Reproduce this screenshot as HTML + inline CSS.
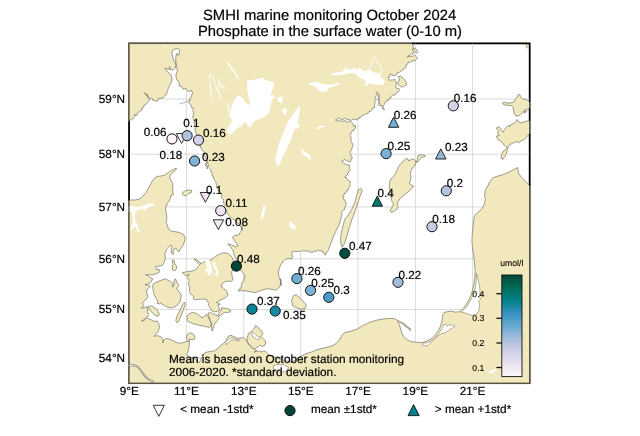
<!DOCTYPE html>
<html><head><meta charset="utf-8"><title>SMHI marine monitoring October 2024</title>
<style>html,body{margin:0;padding:0;background:#fff}svg{display:block;will-change:transform}text{font-family:"Liberation Sans",Arial,sans-serif;fill:#000;stroke:#000;stroke-width:0.2px;text-rendering:geometricPrecision}.t{font-size:14.8px}.l{font-size:11.75px}.m{font-size:11.7px}.s{font-size:8.7px;stroke-width:0.1px}</style></head><body>
<svg width="640" height="436" viewBox="0 0 640 436">
<rect width="640" height="436" fill="#fff"/>
<defs><clipPath id="fr"><rect x="128.45" y="42.8" width="401.8" height="341.0"/></clipPath>
<linearGradient id="cb" x1="0" y1="0" x2="0" y2="1"><stop offset="0.000" stop-color="#014636"/><stop offset="0.125" stop-color="#016c59"/><stop offset="0.250" stop-color="#02818a"/><stop offset="0.375" stop-color="#3690c0"/><stop offset="0.500" stop-color="#67a9cf"/><stop offset="0.625" stop-color="#a6bddb"/><stop offset="0.750" stop-color="#d0d1e6"/><stop offset="0.875" stop-color="#ece2f0"/><stop offset="1.000" stop-color="#fff7fb"/></linearGradient></defs>
<rect x="129.05" y="43.4" width="400.6" height="339.8" fill="#fff" stroke="#000" stroke-width="1.7"/>
<g clip-path="url(#fr)">
<line x1="186.4" y1="43" x2="186.4" y2="383" stroke="#cbcbcb" stroke-width="0.7"/>
<line x1="243.7" y1="43" x2="243.7" y2="383" stroke="#cbcbcb" stroke-width="0.7"/>
<line x1="300.7" y1="43" x2="300.7" y2="383" stroke="#cbcbcb" stroke-width="0.7"/>
<line x1="358.0" y1="43" x2="358.0" y2="383" stroke="#cbcbcb" stroke-width="0.7"/>
<line x1="415.4" y1="43" x2="415.4" y2="383" stroke="#cbcbcb" stroke-width="0.7"/>
<line x1="472.6" y1="43" x2="472.6" y2="383" stroke="#cbcbcb" stroke-width="0.7"/>
<line x1="129" y1="99.0" x2="530" y2="99.0" stroke="#cbcbcb" stroke-width="0.7"/>
<line x1="129" y1="154.2" x2="530" y2="154.2" stroke="#cbcbcb" stroke-width="0.7"/>
<line x1="129" y1="206.9" x2="530" y2="206.9" stroke="#cbcbcb" stroke-width="0.7"/>
<line x1="129" y1="258.8" x2="530" y2="258.8" stroke="#cbcbcb" stroke-width="0.7"/>
<line x1="129" y1="309.5" x2="530" y2="309.5" stroke="#cbcbcb" stroke-width="0.7"/>
<line x1="129" y1="358.0" x2="530" y2="358.0" stroke="#cbcbcb" stroke-width="0.7"/>
<path d="M126.5,40.5 L412.0,40.5 L412.0,43.9 L412.8,45.0 L412.9,46.4 L413.5,47.9 L412.5,49.2 L412.6,50.5 L413.4,51.5 L413.5,53.2 L412.0,53.8 L410.8,54.4 L409.7,55.1 L408.7,56.3 L407.4,57.0 L408.3,55.8 L409.7,56.5 L411.3,56.3 L412.9,56.1 L414.6,55.2 L416.1,56.5 L417.5,57.9 L416.9,58.9 L416.1,59.7 L414.9,60.9 L413.4,60.2 L412.6,61.5 L411.1,61.1 L409.7,62.5 L408.3,62.0 L408.0,63.2 L407.4,64.3 L406.1,64.8 L406.1,66.1 L405.6,67.9 L403.8,68.4 L403.1,70.0 L401.5,70.7 L400.2,71.4 L399.2,72.6 L397.4,72.7 L396.9,74.4 L395.8,75.0 L395.0,75.8 L394.2,75.6 L393.0,75.4 L391.9,74.7 L390.6,73.8 L389.6,75.1 L390.3,76.4 L388.2,77.0 L388.7,78.3 L389.2,79.7 L390.6,80.6 L391.6,79.9 L392.8,80.2 L393.8,79.2 L395.1,79.7 L395.1,81.1 L396.4,82.2 L396.1,83.9 L396.3,85.3 L395.6,86.6 L396.0,88.0 L397.4,88.4 L398.9,88.5 L399.7,89.8 L398.8,90.6 L398.3,91.7 L397.0,92.1 L396.1,93.0 L395.7,94.3 L394.7,95.3 L392.8,94.9 L391.8,95.7 L391.0,96.7 L390.8,98.3 L389.2,98.5 L388.5,100.2 L386.7,100.2 L386.5,101.7 L385.2,102.5 L384.3,103.3 L384.3,104.6 L383.6,105.6 L383.2,107.0 L382.0,108.0 L383.1,109.1 L384.5,109.8 L383.7,108.7 L383.0,107.5 L381.8,106.6 L381.4,105.2 L379.8,105.9 L380.1,104.2 L379.1,102.8 L379.3,101.4 L378.0,100.3 L378.3,98.9 L378.3,97.7 L378.1,96.6 L378.8,95.3 L377.8,94.2 L376.9,92.7 L376.0,93.8 L376.7,95.4 L375.9,96.6 L374.7,97.6 L376.4,99.1 L375.5,100.1 L375.2,101.2 L374.4,102.3 L375.6,103.7 L374.6,104.8 L374.4,105.9 L374.8,107.5 L373.0,107.8 L372.8,109.1 L371.6,109.4 L371.1,110.5 L370.5,111.4 L368.8,111.5 L368.1,113.0 L367.3,113.9 L365.8,113.6 L365.0,114.5 L363.9,114.9 L362.8,115.4 L361.9,116.1 L361.2,116.9 L359.8,117.1 L359.5,118.4 L357.8,118.4 L357.2,120.0 L356.0,119.7 L354.8,119.2 L353.2,119.2 L351.7,120.0 L350.3,120.9 L349.2,119.3 L347.8,119.7 L346.7,119.2 L345.6,118.3 L344.4,118.6 L343.1,119.2 L341.9,119.5 L340.7,119.1 L339.7,118.3 L338.4,118.4 L335.3,120.0 L338.4,121.2 L339.7,120.2 L340.8,121.3 L342.0,120.7 L343.1,121.6 L344.4,120.8 L345.5,120.7 L346.6,122.4 L347.8,121.9 L349.2,121.2 L350.5,121.6 L351.7,122.3 L352.7,123.4 L353.3,124.7 L353.5,126.1 L355.5,125.6 L355.6,127.0 L355.2,128.1 L354.5,129.1 L354.1,130.2 L352.7,130.3 L352.0,131.2 L351.7,132.5 L350.4,133.2 L351.1,134.8 L350.2,135.6 L350.7,136.9 L351.2,138.1 L351.2,139.5 L350.8,141.1 L351.1,142.5 L352.5,143.4 L353.1,144.7 L352.8,145.9 L352.5,147.1 L351.7,148.1 L351.8,149.7 L350.7,150.7 L350.2,152.0 L350.2,153.4 L351.2,154.5 L350.9,155.9 L352.4,157.2 L351.7,159.1 L351.2,158.6 L351.0,160.2 L350.5,161.7 L348.8,161.6 L347.3,160.9 L346.1,160.5 L344.9,159.4 L343.4,160.2 L342.2,160.6 L341.6,161.7 L342.9,162.5 L344.2,163.3 L345.1,164.0 L346.1,164.7 L347.3,164.8 L349.1,164.8 L349.7,166.4 L349.2,168.2 L350.5,169.5 L349.4,170.3 L348.7,171.2 L348.9,172.7 L347.6,173.0 L347.5,174.4 L346.6,175.0 L345.8,176.3 L344.7,177.3 L346.2,177.4 L346.6,178.9 L347.6,179.9 L348.9,180.5 L350.2,181.2 L350.6,182.2 L350.0,183.6 L350.3,185.1 L350.0,186.4 L348.9,187.5 L348.4,188.8 L348.2,190.2 L346.6,190.6 L346.6,192.2 L345.6,192.8 L344.2,193.0 L344.5,194.4 L343.5,195.2 L342.7,196.1 L344.2,196.6 L342.9,198.6 L344.2,199.2 L344.5,200.6 L346.0,201.5 L345.8,203.1 L346.1,204.5 L345.6,205.8 L345.0,207.0 L344.8,208.2 L344.7,209.5 L343.4,210.2 L342.2,211.2 L341.3,212.3 L341.9,214.1 L341.7,215.4 L341.4,216.7 L341.1,218.0 L340.6,220.0 L339.1,224.7 L336.7,229.4 L334.4,234.4 L332.2,239.9 L330.6,244.3 L328.9,248.2 L328.9,249.4 L328.3,250.4 L327.5,251.2 L326.7,252.0 L326.6,253.2 L325.4,253.9 L325.4,255.1 L324.3,254.1 L324.0,252.6 L322.7,252.2 L322.3,250.9 L321.1,250.6 L320.1,251.5 L319.0,250.6 L317.9,249.8 L317.1,251.0 L315.7,251.5 L314.6,251.1 L313.5,250.9 L312.8,252.3 L311.3,252.6 L310.2,252.0 L309.1,251.5 L308.0,250.8 L306.9,251.0 L305.8,251.5 L304.8,250.8 L303.5,251.0 L302.5,250.4 L301.5,250.9 L300.5,251.5 L299.2,251.5 L298.1,251.1 L297.0,251.4 L295.9,251.5 L294.6,251.1 L293.3,251.7 L292.1,251.5 L292.2,252.9 L291.5,254.2 L292.0,255.6 L293.2,256.4 L291.8,257.4 L291.5,259.2 L290.5,258.5 L289.4,258.4 L288.2,258.6 L287.0,258.6 L285.9,259.0 L284.9,259.7 L282.7,261.9 L280.5,265.2 L278.9,269.6 L278.3,274.0 L279.4,278.0 L280.5,280.9 L281.2,285.6 L280.6,278.6 L280.9,283.3 L279.4,287.2 L276.2,290.3 L273.1,289.5 L268.4,288.8 L263.8,289.5 L259.1,291.1 L255.2,292.7 L251.2,291.9 L246.6,291.1 L241.9,290.3 L238.4,291.1 L238.8,289.5 L241.1,288.0 L241.6,284.1 L243.8,280.2 L245.0,276.2 L243.4,273.1 L240.3,270.0 L239.2,265.3 L238.0,261.4 L235.9,258.3 L234.1,255.2 L233.3,251.2 L230.9,247.3 L227.8,243.8 L231.7,245.0 L235.6,246.6 L238.0,245.8 L236.4,243.4 L234.1,240.3 L232.5,237.2 L234.8,235.6 L238.8,234.8 L241.1,230.9 L241.9,226.2 L242.5,230.2 L240.0,225.2 L236.2,221.5 L231.2,217.8 L227.5,214.0 L226.7,212.8 L226.7,211.3 L226.3,210.0 L225.7,208.9 L224.9,208.0 L224.6,206.8 L225.0,205.5 L224.2,204.5 L223.7,203.3 L223.6,202.0 L223.4,200.5 L223.3,199.0 L222.0,198.0 L221.5,196.9 L221.8,195.5 L221.5,194.3 L220.3,193.5 L220.6,192.1 L219.2,191.3 L218.5,190.3 L218.5,189.0 L217.6,188.2 L217.0,187.2 L216.6,186.2 L216.7,184.9 L216.0,184.0 L216.1,182.5 L215.5,181.4 L214.5,180.4 L214.2,179.1 L213.5,178.0 L213.5,176.6 L211.8,175.9 L212.3,174.3 L212.1,172.9 L211.0,172.0 L211.0,170.6 L210.4,169.4 L209.5,168.4 L208.6,167.4 L208.6,166.0 L208.7,164.6 L207.5,163.7 L207.9,162.2 L207.8,160.9 L206.6,160.0 L206.8,161.1 L206.9,162.2 L206.0,163.4 L206.4,164.5 L207.4,165.6 L207.6,166.7 L207.6,167.8 L207.0,168.9 L207.3,167.5 L206.7,166.4 L205.3,165.6 L205.5,164.2 L206.2,163.2 L206.7,162.0 L206.3,160.8 L206.2,159.6 L205.6,158.5 L205.5,157.2 L204.5,156.2 L204.7,154.9 L203.4,154.1 L204.2,152.2 L203.2,151.2 L202.3,150.2 L201.6,149.1 L201.4,147.7 L200.0,147.1 L200.3,145.5 L200.8,143.9 L201.0,142.6 L200.5,141.4 L199.1,140.6 L199.2,139.2 L198.3,138.5 L197.7,137.5 L197.1,136.5 L196.9,135.3 L196.6,134.0 L195.7,132.9 L195.6,131.4 L195.4,130.3 L194.8,129.2 L196.0,127.9 L195.2,126.8 L194.6,125.6 L194.5,124.4 L194.4,123.2 L193.9,122.1 L194.3,120.7 L193.2,119.8 L193.7,118.4 L192.7,117.4 L192.9,116.2 L193.3,115.0 L193.5,113.9 L193.8,112.7 L192.8,111.6 L193.4,110.4 L192.9,109.2 L193.3,108.0 L191.8,107.8 L191.4,106.4 L191.0,105.0 L189.8,104.1 L188.9,103.1 L189.1,101.7 L189.8,99.4 L191.4,96.2 L192.5,93.1 L191.4,90.0 L189.8,91.6 L187.5,90.8 L185.9,88.4 L183.1,89.2 L182.0,86.9 L179.7,86.1 L178.9,82.2 L176.6,79.1 L175.8,75.2 L177.3,70.5 L176.6,65.8 L175.8,61.1 L175.8,57.2 L176.2,54.1 L177.3,53.3 L178.1,55.6 L179.4,53.3 L179.7,50.2 L178.1,48.6 L175.0,49.1 L172.7,50.2 L171.9,53.3 L172.7,57.2 L173.8,60.3 L175.0,61.9 L175.8,65.0 L175.3,68.1 L173.4,69.7 L170.3,69.7 L169.5,66.6 L169.2,69.7 L167.2,68.9 L164.8,68.1 L166.4,70.5 L168.8,72.8 L171.1,75.2 L171.9,78.3 L171.6,82.2 L169.5,85.3 L168.0,89.2 L167.7,90.4 L167.0,91.5 L167.0,92.7 L166.9,93.9 L166.1,94.9 L164.8,95.5 L164.0,96.5 L163.2,97.5 L162.5,98.6 L161.3,97.8 L159.8,98.8 L158.6,97.8 L158.1,99.3 L157.8,100.9 L156.4,101.1 L155.1,100.8 L153.9,100.2 L152.6,100.2 L152.4,98.8 L151.4,97.8 L150.2,99.0 L149.4,98.1 L148.7,97.2 L148.1,96.1 L147.0,95.5 L146.7,94.1 L145.2,93.7 L144.4,92.7 L145.2,93.9 L146.3,94.9 L147.2,96.0 L148.0,97.2 L148.5,98.6 L149.6,99.6 L149.0,100.7 L148.3,101.7 L147.3,102.7 L146.5,103.8 L145.5,104.8 L144.2,105.2 L143.9,106.4 L142.9,107.1 L142.8,108.4 L141.4,108.7 L141.6,110.4 L140.4,111.0 L139.7,111.9 L138.2,112.2 L137.3,113.2 L137.2,115.0 L135.8,115.4 L134.2,114.2 L135.1,115.3 L134.6,116.6 L133.8,117.4 L133.3,118.7 L131.9,118.9 L126.5,123.5Z" fill="#f2e8bd" stroke="#6a6a5e" stroke-width="0.65" stroke-linejoin="round"/>
<path d="M126.5,202.0 L127.9,200.0 L135.4,200.0 L140.1,198.6 L142.9,196.2 L145.8,192.9 L148.6,188.2 L150.9,183.5 L153.8,178.8 L157.0,176.5 L160.8,176.0 L164.6,175.1 L167.9,172.7 L171.2,170.8 L174.4,168.7 L176.6,168.5 L174.9,170.8 L172.6,172.7 L170.2,175.1 L169.7,177.9 L171.2,180.7 L172.6,183.5 L173.0,187.3 L172.6,191.0 L173.5,194.8 L171.2,195.0 L170.2,198.8 L167.9,202.5 L166.0,206.3 L165.5,210.1 L166.5,213.8 L166.9,218.5 L166.0,222.3 L166.9,223.9 L168.0,227.8 L170.3,230.9 L175.0,231.7 L179.7,232.5 L183.6,234.8 L185.2,238.0 L184.4,241.9 L182.8,245.8 L180.5,248.9 L178.9,252.0 L177.3,250.5 L175.8,248.1 L174.2,248.9 L173.1,251.2 L173.4,254.4 L171.9,253.6 L171.1,250.5 L171.9,247.3 L171.1,245.0 L168.8,246.6 L166.4,249.7 L164.8,253.6 L165.3,258.3 L164.1,262.2 L162.5,265.3 L158.6,266.1 L155.5,266.9 L156.2,268.8 L157.0,270.0 L158.7,268.8 L159.8,271.5 L157.6,273.2 L154.8,274.3 L151.5,274.8 L148.2,274.6 L145.5,274.8 L148.2,275.9 L150.4,277.6 L152.6,278.7 L151.5,280.9 L149.9,283.1 L147.1,284.2 L144.9,284.7 L148.2,285.3 L150.4,286.4 L148.8,288.0 L147.1,289.1 L146.6,291.9 L147.1,294.6 L147.8,296.5 L147.3,297.8 L145.6,300.0 L143.4,301.6 L142.3,303.8 L144.0,305.5 L142.9,307.1 L141.2,308.2 L144.5,307.7 L147.2,306.7 L147.5,311.0 L148.5,314.5 L147.6,316.6 L144.0,319.5 L141.5,321.3 L144.6,319.8 L146.7,317.9 L148.9,318.9 L151.7,320.0 L153.9,321.1 L156.1,321.6 L157.2,320.9 L158.8,323.6 L159.4,327.5 L158.3,331.3 L156.1,334.1 L153.9,336.3 L156.6,335.7 L159.9,336.3 L162.1,337.9 L163.2,340.1 L162.7,343.0 L163.8,340.0 L166.0,338.5 L169.3,339.0 L173.1,340.7 L176.4,342.6 L180.0,343.2 L183.5,342.6 L186.7,341.4 L189.5,341.4 L189.1,346.9 L188.0,351.6 L186.4,354.7 L190.0,357.1 L195.0,358.9 L198.1,362.1 L199.5,362.5 L200.9,358.9 L203.0,355.0 L205.0,352.7 L209.1,351.6 L214.5,350.8 L217.7,348.5 L220.0,346.1 L223.1,343.8 L225.5,341.4 L227.0,338.3 L228.6,336.0 L230.9,335.2 L234.1,336.8 L237.2,338.3 L241.1,338.0 L243.4,337.5 L245.8,339.9 L247.3,342.2 L248.9,344.6 L251.2,346.9 L254.4,349.2 L256.7,350.8 L254.1,352.2 L257.2,350.9 L261.1,351.9 L265.0,350.9 L267.3,353.0 L268.9,355.3 L274.4,356.9 L280.6,359.2 L286.9,361.2 L293.1,361.6 L299.4,356.9 L305.6,353.8 L311.9,351.9 L316.9,349.7 L324.7,347.7 L331.7,346.1 L335.6,343.8 L339.5,339.8 L341.9,335.2 L345.0,332.5 L351.2,331.2 L357.5,328.9 L363.8,325.0 L370.0,322.2 L376.2,320.3 L382.5,319.1 L388.8,318.4 L395.0,318.8 L397.3,320.3 L398.4,322.7 L399.7,325.8 L400.9,329.7 L402.0,333.6 L404.4,337.5 L407.5,339.8 L410.6,341.4 L415.3,342.2 L420.0,342.5 L424.7,341.9 L429.4,339.8 L433.3,337.2 L436.4,333.6 L438.8,329.7 L440.3,326.6 L441.6,322.7 L442.3,318.8 L442.7,314.8 L444.2,312.5 L447.3,311.7 L451.2,311.2 L455.2,312.2 L459.1,311.7 L459.5,311.4 L463.4,308.3 L467.3,302.8 L471.2,295.0 L473.6,285.9 L474.7,278.1 L475.2,271.9 L474.7,265.6 L474.1,259.4 L473.6,254.7 L472.8,250.0 L472.0,243.1 L472.0,236.9 L472.8,229.1 L473.6,221.2 L474.4,215.8 L477.5,212.7 L481.4,209.5 L483.8,205.6 L485.3,199.4 L484.5,194.7 L485.3,190.0 L487.7,186.2 L490.0,181.6 L493.1,177.7 L497.8,176.1 L503.3,174.5 L508.8,172.2 L513.4,169.8 L517.8,167.5 L518.1,170.9 L518.9,173.8 L521.2,176.9 L524.4,180.0 L527.5,183.1 L529.4,185.5 L532.5,187.5 L532.5,386.0 L126.5,386.0Z" fill="#f2e8bd" stroke="#6a6a5e" stroke-width="0.65" stroke-linejoin="round"/>
<path d="M148.1,306.6 L150.6,305.8 L153.3,306.9 L156.1,308.8 L158.3,311.5 L159.4,314.3 L157.7,316.5 L155.5,315.4 L153.3,313.7 L151.1,311.5 L149.7,309.3 L148.3,307.9Z" fill="#f2e8bd" stroke="#6a6a5e" stroke-width="0.65" stroke-linejoin="round"/>
<path d="M153.2,284.2 L157.0,282.0 L161.4,280.1 L165.8,278.7 L167.5,279.8 L169.5,281.0 L171.5,282.0 L172.6,283.5 L172.3,286.9 L173.3,286.7 L174.0,284.0 L174.3,280.9 L175.2,278.7 L176.3,280.9 L177.4,283.1 L179.0,285.8 L177.4,287.5 L176.3,288.0 L177.9,290.2 L180.1,293.0 L181.4,295.7 L180.8,297.8 L180.3,301.1 L178.6,303.8 L176.4,306.0 L173.7,307.3 L170.4,308.0 L167.1,307.1 L164.3,305.5 L162.1,304.4 L161.0,302.7 L159.4,303.8 L157.2,303.3 L157.7,301.1 L156.1,298.3 L154.6,295.5 L153.7,293.5 L153.2,290.2 L152.6,286.9Z" fill="#f2e8bd" stroke="#6a6a5e" stroke-width="0.65" stroke-linejoin="round"/>
<path d="M184.7,302.0 L185.2,305.2 L183.6,309.1 L182.0,313.0 L180.5,316.9 L178.9,320.8 L177.3,323.1 L175.8,320.8 L176.6,316.9 L178.1,313.8 L180.0,310.6 L181.6,306.7 L183.1,303.6Z" fill="#f2e8bd" stroke="#6a6a5e" stroke-width="0.65" stroke-linejoin="round"/>
<path d="M172.7,259.8 L174.2,260.6 L174.7,263.8 L176.2,265.3 L176.6,268.4 L175.0,270.8 L172.7,270.0 L172.2,266.9 L173.1,264.5 L172.3,261.9Z" fill="#f2e8bd" stroke="#6a6a5e" stroke-width="0.65" stroke-linejoin="round"/>
<path d="M182.0,193.1 L184.4,191.2 L188.3,190.0 L191.9,190.5 L191.4,192.5 L188.3,193.6 L185.9,195.9 L183.6,195.2Z" fill="#f2e8bd" stroke="#6a6a5e" stroke-width="0.65" stroke-linejoin="round"/>
<path d="M186.4,338.3 L187.2,334.4 L189.5,332.8 L192.7,333.6 L195.0,336.8 L194.7,339.1 L191.9,339.6 L189.5,339.1 L189.1,341.4Z" fill="#f2e8bd" stroke="#6a6a5e" stroke-width="0.65" stroke-linejoin="round"/>
<path d="M194.3,258.8 L196.5,259.9 L198.7,261.3 L200.4,262.4 L200.9,264.3 L202.6,262.6 L204.8,261.7 L207.0,261.5 L209.2,260.4 L211.4,259.3 L213.0,258.2 L215.2,256.6 L218.0,254.9 L220.7,253.6 L223.5,252.7 L226.2,252.9 L228.4,253.8 L230.6,255.5 L232.3,257.7 L233.4,260.4 L232.6,263.2 L232.8,266.5 L232.6,269.8 L231.7,272.5 L231.9,275.8 L233.0,278.0 L232.6,280.2 L231.2,281.5 L228.4,281.1 L225.7,281.3 L223.5,282.6 L221.8,284.6 L221.3,286.8 L222.4,287.2 L224.0,288.9 L226.2,290.5 L227.3,292.7 L227.9,295.5 L226.2,297.1 L223.5,298.8 L220.7,299.9 L218.0,301.5 L216.3,302.6 L218.5,303.2 L220.2,304.3 L218.0,304.8 L218.5,306.5 L219.6,308.7 L219.1,310.9 L216.9,311.4 L214.1,312.0 L211.9,310.9 L210.8,308.7 L209.7,307.0 L208.1,305.4 L208.8,303.7 L207.5,301.5 L206.4,299.3 L202.6,299.1 L198.7,299.3 L195.4,299.9 L193.2,298.8 L193.8,296.6 L191.0,294.4 L189.4,291.6 L189.8,287.2 L188.3,284.1 L189.1,280.2 L187.5,277.0 L189.1,273.9 L186.1,275.8 L183.9,274.2 L182.2,272.5 L184.4,272.3 L187.7,271.6 L191.0,271.3 L194.3,270.2 L196.5,268.8 L197.6,267.0 L198.9,265.7 L199.4,264.6 L198.3,263.3 L196.7,261.8 L195.2,260.5 L194.1,259.4Z" fill="#f2e8bd" stroke="#6a6a5e" stroke-width="0.65" stroke-linejoin="round"/>
<path d="M221.3,307.6 L223.5,308.1 L226.2,308.3 L229.0,309.2 L230.6,310.5 L230.1,312.0 L227.9,312.5 L225.1,312.3 L223.5,313.1 L221.8,314.7 L220.2,315.8 L218.5,315.3 L218.7,313.6 L219.8,312.0 L220.9,310.9 L221.8,309.2Z" fill="#f2e8bd" stroke="#6a6a5e" stroke-width="0.65" stroke-linejoin="round"/>
<path d="M208.1,313.1 L210.3,312.5 L212.5,313.8 L215.2,314.7 L218.0,315.8 L219.1,317.5 L218.0,319.7 L216.3,321.9 L214.7,324.1 L213.6,326.8 L212.8,330.1 L212.1,331.2 L211.7,329.0 L211.4,326.3 L211.7,323.5 L210.8,321.9 L209.7,319.1 L208.8,316.4 L208.1,314.7Z" fill="#f2e8bd" stroke="#6a6a5e" stroke-width="0.65" stroke-linejoin="round"/>
<path d="M186.8,316.9 L187.7,314.9 L189.9,313.4 L192.7,312.5 L195.4,313.1 L197.6,314.2 L199.8,315.8 L202.0,318.0 L203.7,316.9 L205.3,315.3 L206.6,314.5 L207.5,315.8 L208.8,318.0 L209.7,320.2 L210.6,322.4 L211.0,324.1 L210.8,326.3 L209.2,327.4 L206.4,326.8 L203.1,325.9 L199.8,325.5 L196.5,324.6 L193.2,323.7 L189.9,322.4 L187.7,321.3 L186.4,319.7 L187.7,318.6Z" fill="#f2e8bd" stroke="#6a6a5e" stroke-width="0.65" stroke-linejoin="round"/>
<path d="M247.0,338.1 L248.6,333.4 L251.7,331.1 L254.1,328.8 L255.6,325.6 L258.0,327.2 L260.3,330.3 L261.9,331.1 L262.7,333.4 L261.1,336.6 L263.4,338.9 L265.8,341.2 L265.0,345.2 L261.9,346.7 L260.3,345.2 L257.2,347.5 L254.8,349.1 L252.5,348.3 L250.6,345.6 L248.6,343.6 L247.0,341.2Z" fill="#f2e8bd" stroke="#6a6a5e" stroke-width="0.65" stroke-linejoin="round"/>
<path d="M293.8,295.3 L296.1,294.7 L299.0,297.2 L302.3,300.3 L306.1,304.7 L305.6,307.5 L305.1,308.8 L300.4,309.2 L296.5,307.7 L292.9,306.0 L291.6,301.3 L292.4,297.8Z" fill="#f2e8bd" stroke="#6a6a5e" stroke-width="0.65" stroke-linejoin="round"/>
<path d="M360.6,188.3 L362.2,189.8 L361.4,193.0 L359.8,196.9 L358.3,201.6 L356.7,206.3 L355.2,210.9 L353.6,215.6 L351.6,220.0 L350.8,223.1 L349.2,227.8 L347.7,233.3 L346.1,238.8 L344.5,243.4 L342.2,247.3 L340.9,243.4 L340.6,238.8 L341.4,232.5 L343.0,226.3 L344.5,220.0 L345.8,218.0 L347.3,216.4 L348.9,214.1 L351.3,210.2 L353.1,206.3 L355.2,201.6 L356.3,196.9 L357.5,193.0 L358.3,189.8Z" fill="#f2e8bd" stroke="#6a6a5e" stroke-width="0.65" stroke-linejoin="round"/>
<path d="M418.1,155.6 L420.5,154.8 L423.6,155.2 L425.6,155.9 L423.6,157.2 L421.2,157.5 L419.7,159.5 L418.1,161.9 L415.8,162.7 L415.0,165.8 L412.7,167.3 L411.1,170.5 L410.3,173.6 L411.1,176.7 L410.3,180.6 L409.5,183.8 L411.9,185.3 L413.3,186.0 L412.2,188.0 L410.4,190.0 L405.7,193.8 L401.0,197.6 L398.2,201.3 L397.3,204.2 L398.2,207.0 L396.3,209.8 L393.5,211.7 L391.1,212.2 L390.3,209.8 L392.2,207.0 L393.5,204.2 L392.2,202.3 L391.1,197.6 L390.3,191.9 L389.2,186.5 L389.7,182.2 L390.8,179.1 L393.1,176.7 L395.5,173.6 L397.0,170.5 L398.6,166.6 L400.9,163.4 L403.3,161.1 L405.9,158.8 L408.0,158.8 L408.8,161.1 L411.1,159.5 L413.4,159.1 L415.0,160.3 L415.8,162.2 L417.3,159.5Z" fill="#f2e8bd" stroke="#6a6a5e" stroke-width="0.65" stroke-linejoin="round"/>
<path d="M502.1,103.3 L504.4,102.2 L507.8,103.1 L511.3,102.8 L514.2,102.0 L515.3,99.3 L517.0,97.6 L518.2,94.7 L519.9,94.4 L520.5,97.0 L522.2,98.8 L525.0,99.3 L527.9,100.5 L529.6,102.0 L532.5,102.2 L532.5,108.3 L529.6,108.5 L527.3,109.1 L524.5,110.2 L522.5,112.3 L520.5,114.6 L518.2,116.0 L515.9,116.0 L514.2,113.7 L513.6,110.2 L513.0,107.4 L511.3,105.6 L508.4,105.4 L505.6,105.1 L503.3,104.3Z" fill="#f2e8bd" stroke="#6a6a5e" stroke-width="0.65" stroke-linejoin="round"/>
<path d="M523.4,112.1 L525.0,111.1 L526.7,110.9 L526.2,112.1 L524.4,112.9Z" fill="#f2e8bd" stroke="#6a6a5e" stroke-width="0.65" stroke-linejoin="round"/>
<path d="M496.4,128.0 L498.1,126.9 L499.8,127.4 L501.5,130.3 L503.3,132.0 L504.4,129.7 L506.7,126.9 L508.4,125.1 L509.6,126.9 L510.7,124.6 L513.6,123.4 L515.9,121.7 L517.0,119.4 L518.2,121.7 L520.5,122.8 L523.9,121.9 L526.8,121.1 L529.6,120.6 L532.5,120.3 L532.5,132.3 L529.4,133.9 L528.3,134.7 L526.7,137.0 L524.4,139.4 L521.2,140.9 L518.9,142.5 L515.8,141.7 L512.7,143.3 L509.5,144.8 L508.3,146.9 L507.5,149.5 L506.4,153.4 L504.8,156.6 L502.5,159.7 L500.9,158.1 L501.7,155.0 L503.3,151.1 L505.6,149.5 L507.2,147.2 L505.6,146.4 L503.3,144.1 L501.7,141.7 L497.8,139.4 L496.2,136.2 L499.2,135.5 L497.5,133.2 L498.7,130.9 L497.3,129.7Z" fill="#f2e8bd" stroke="#6a6a5e" stroke-width="0.65" stroke-linejoin="round"/>
<path d="M526.2,44.3 L528.9,44.3 L529.0,46.5 L527.8,48.0 L526.6,47.2 L526.2,45.5Z" fill="#f2e8bd" stroke="#6a6a5e" stroke-width="0.65" stroke-linejoin="round"/>
<path d="M398.3,76.5 L400.6,76.1 L402.9,77.9 L404.8,79.7 L406.1,82.5 L406.6,84.8 L404.3,86.1 L402.0,87.1 L399.7,86.1 L398.3,84.3 L397.4,82.0 L399.3,80.6 L399.7,78.8 L398.3,77.4Z" fill="#f2e8bd" stroke="#6a6a5e" stroke-width="0.65" stroke-linejoin="round"/>
<path d="M413.4,47.8 L415.2,48.7 L417.1,50.1 L417.5,52.4 L416.6,53.3 L415.2,51.9 L414.0,50.1Z" fill="#f2e8bd" stroke="#6a6a5e" stroke-width="0.65" stroke-linejoin="round"/>
<path d="M131.0,365.2 L133.8,365.2 L136.0,365.8 L138.0,366.9 L140.0,369.6 L142.1,372.3 L144.2,375.1 L146.2,377.5 L148.0,378.9 L150.0,380.2 L153.1,381.3" fill="none" stroke="#6a6a5e" stroke-width="1.7" stroke-linecap="round" stroke-linejoin="round"/>
<path d="M131.0,365.2 L133.8,365.2 L136.0,365.8 L138.0,366.9 L140.0,369.6 L142.1,372.3 L144.2,375.1 L146.2,377.5 L148.0,378.9 L150.0,380.2 L153.1,381.3" fill="none" stroke="#fff" stroke-width="0.7" stroke-linecap="round" stroke-linejoin="round"/>
<path d="M476.4,273.4 L478.1,279.7 L479.5,285.9 L480.1,292.2 L479.4,296.9 L480.5,299.2 L478.9,301.0 L479.6,306.3 L478.8,310.9 L476.3,314.4 L472.3,315.3 L468.4,314.1 L464.5,312.8 L461.2,312.4 L464.2,309.6 L467.5,305.6 L470.6,300.2 L473.7,294.6 L475.6,286.7 L476.3,278.9Z" fill="#fff" stroke="#6a6a5e" stroke-width="0.5" stroke-linejoin="round"/>
<path d="M442.3,327.8 L443.4,325.0 L445.0,324.2 L446.6,325.8 L449.7,325.0 L453.6,325.3 L455.2,326.2 L452.0,328.1 L448.1,330.5 L445.0,332.8 L441.1,333.6 L437.2,336.7 L434.1,339.8 L430.2,343.0 L427.0,346.1 L423.1,345.3 L422.8,343.4 L426.7,342.8 L430.6,341.2 L434.5,338.4 L437.7,335.0 L440.0,331.4Z" fill="#fff" stroke="#6a6a5e" stroke-width="0.5" stroke-linejoin="round"/>
<path d="M273.0,366.0 L278.0,364.5 L284.0,365.0 L288.5,367.0 L287.0,371.0 L281.0,372.5 L275.0,371.0Z" fill="#fff" stroke="#6a6a5e" stroke-width="0.5" stroke-linejoin="round"/>
<path d="M226.2,341.4 L228.6,339.1 L231.7,337.5 L235.6,339.1 L239.5,339.9 L238.8,341.1 L234.8,340.2 L231.7,339.6 L229.4,341.4 L227.8,343.8 L225.9,344.6Z" fill="#fff" stroke="#6a6a5e" stroke-width="0.5" stroke-linejoin="round"/>
<path d="M251.7,332.5 L254.3,333.3 L257.2,336.1 L260.0,337.0 L259.0,339.8 L256.2,338.9 L253.4,337.0 L251.7,335.1Z" fill="#fff" stroke="#6a6a5e" stroke-width="0.5" stroke-linejoin="round"/>
<path d="M127.5,364.0 L131.5,364.3 L134.0,364.7 L134.0,365.9 L131.5,366.1 L127.5,366.8Z" fill="#fff" stroke="#6a6a5e" stroke-width="0.5" stroke-linejoin="round"/>
<path d="M488.7,372.2 L491.5,370.3 L494.6,369.7 L497.1,368.8 L495.9,370.9 L493.3,371.8 L494.6,374.3 L492.5,373.1 L490.2,373.1 L488.7,374.1Z" fill="#fff"/>
<path d="M205.5,260.4 L208.8,259.1 L209.9,261.5 L210.6,263.7 L211.6,266.5 L212.0,269.2 L211.5,272.0 L210.4,274.7 L209.2,276.6 L208.3,274.3 L207.5,272.1 L205.9,272.6 L204.7,271.0 L206.3,269.8 L206.9,267.0 L206.4,263.7 L205.1,261.7Z" fill="#fff"/>
<path d="M213.0,262.6 L214.6,261.6 L215.7,262.6 L215.4,265.4 L216.8,267.6 L217.9,270.3 L218.4,273.1 L218.0,275.3 L216.4,275.8 L215.3,274.3 L216.3,272.5 L215.8,269.9 L214.2,268.2 L213.1,265.9 L212.9,263.7Z" fill="#fff"/>
<path d="M127.9,206.3 L132.6,206.0 L135.4,206.7 L138.2,206.9 L141.5,206.0 L144.8,205.1 L148.1,204.3 L150.9,203.2 L152.8,203.4 L154.7,204.9 L153.3,205.9 L150.6,206.2 L148.6,206.9 L146.9,208.3 L145.8,210.1 L144.3,210.6 L143.4,209.2 L141.5,209.0 L139.2,209.4 L137.1,210.6 L135.4,212.5 L134.7,214.8 L134.9,217.1 L134.7,219.3 L135.6,221.3 L136.5,223.2 L137.5,225.1 L138.2,227.5 L138.8,229.8 L139.9,231.2 L139.2,232.4 L137.8,232.2 L136.8,230.3 L136.2,227.9 L135.2,226.0 L134.0,227.5 L132.8,229.3 L131.6,230.7 L130.7,229.8 L131.2,227.5 L132.1,225.1 L132.8,223.0 L132.4,220.9 L132.8,218.5 L132.1,216.2 L131.8,213.3 L131.2,211.7 L127.9,211.7Z" fill="#fff"/>
<path d="M247.0,81.1 L250.2,80.0 L255.6,79.5 L261.9,77.5 L265.0,79.5 L268.9,81.1 L273.6,81.9 L274.1,85.8 L272.0,90.5 L270.5,95.2 L273.6,94.7 L274.7,96.7 L272.5,99.1 L271.2,103.0 L270.5,107.7 L267.3,112.3 L263.4,115.5 L259.5,117.5 L254.8,120.2 L252.5,123.3 L250.9,126.4 L247.8,126.4 L247.0,123.3 L248.6,120.2 L244.7,121.7 L241.6,125.6 L240.0,128.0 L238.4,126.8 L233.8,131.4 L230.6,134.6 L227.5,133.0 L226.7,129.1 L229.8,125.2 L232.2,120.5 L230.6,117.4 L229.8,114.2 L229.8,118.6 L229.1,114.7 L230.6,110.0 L232.2,105.3 L234.5,99.8 L238.4,95.6 L242.3,97.5 L245.5,102.2 L248.6,105.3 L250.2,103.8 L248.6,97.5 L247.0,88.9Z" fill="#fff"/>
<path d="M240.0,125.2 L243.1,122.8 L247.0,122.1 L248.6,126.8 L251.7,125.2 L254.1,121.3 L259.5,118.9 L265.0,116.6 L268.9,112.7 L270.5,108.0 L261.9,108.0 L254.1,111.1 L246.2,117.4Z" fill="#fff"/>
<path d="M300.2,107.2 L299.4,112.7 L298.6,117.4 L297.0,122.8 L299.4,124.4 L299.4,127.5 L296.2,129.1 L294.4,128.6 L293.4,131.8 L291.6,138.0 L289.1,144.2 L285.8,151.3 L282.2,158.0 L279.4,165.0 L276.7,165.0 L275.2,158.8 L276.7,153.3 L278.3,145.5 L280.6,139.2 L283.8,131.4 L286.9,123.6 L290.0,118.2 L293.9,113.5 L297.0,108.8 L299.1,106.8Z" fill="#fff"/>
<path d="M331.2,73.6 L335.9,72.5 L341.4,72.0 L344.5,69.7 L345.3,66.6 L347.7,68.9 L351.6,69.7 L353.9,67.8 L357.0,69.7 L359.4,67.3 L361.7,69.7 L365.6,71.2 L368.8,69.7 L371.9,71.2 L376.6,73.6 L379.7,72.8 L380.5,76.7 L383.6,79.8 L385.2,82.2 L382.8,84.5 L378.9,85.3 L375.0,84.5 L371.9,83.8 L368.8,83.0 L367.2,86.1 L364.8,85.3 L366.4,82.2 L364.1,79.8 L360.2,78.3 L357.0,75.2 L353.9,72.8 L348.4,73.6 L342.2,74.7 L336.7,75.2 L332.0,75.2Z" fill="#fff"/>
<path d="M307.9,83.6 L311.3,82.9 L315.0,82.3 L317.9,81.8 L319.7,83.6 L323.5,84.2 L328.2,84.8 L332.9,84.4 L337.6,83.3 L341.0,83.3 L338.6,84.8 L334.8,86.1 L331.0,87.0 L328.2,88.5 L326.3,91.2 L322.6,91.7 L318.8,90.8 L316.9,88.0 L314.1,86.1 L310.3,85.1Z" fill="#fff"/>
<path d="M300.9,147.8 L303.3,150.2 L305.6,152.5 L308.8,154.1 L311.1,160.3 L308.8,158.0 L306.4,156.4 L304.1,154.9 L301.7,151.8Z" fill="#fff"/>
<path d="M277.5,96.7 L279.8,97.5 L282.2,96.2 L282.5,99.8 L281.4,103.8 L279.4,102.2 L277.5,99.8Z" fill="#fff"/>
<path d="M282.2,109.7 L284.5,108.4 L287.2,108.8 L286.6,112.3 L285.6,115.9 L283.8,113.9 L282.5,111.6Z" fill="#fff"/>
<path d="M316.6,127.8 L319.7,125.9 L324.4,125.5 L326.7,126.2 L322.8,127.0 L319.7,128.6 L317.3,129.7Z" fill="#fff"/>
<path d="M289.1,221.6 L291.4,222.3 L293.8,224.7 L296.1,227.0 L294.5,230.2 L292.2,227.8 L290.6,228.6 L289.4,225.5Z" fill="#fff"/>
<path d="M302.0,151.6 L304.4,150.8 L306.7,153.1 L309.1,153.9 L310.6,157.0 L309.8,160.2 L307.5,157.0 L305.2,156.2 L302.8,154.7Z" fill="#fff"/>
<path d="M263.8,205.2 L265.5,206.0 L265.0,211.5 L263.0,217.8 L261.5,220.2 L261.2,215.2 L262.5,209.0Z" fill="#fff"/>
<path d="M227.8,63.1 L230.6,67.0 L233.8,70.9 L236.1,74.8 L238.1,78.4" fill="none" stroke="#fff" stroke-width="1.6" stroke-linecap="round" stroke-linejoin="round"/>
<path d="M218.4,80.0 L218.9,85.0 L220.5,88.9 L222.0,87.3 L224.4,86.2" fill="none" stroke="#fff" stroke-width="1.0" stroke-linecap="round" stroke-linejoin="round"/>
<path d="M215.8,88.9 L218.1,91.2 L220.0,95.2 L220.5,98.3" fill="none" stroke="#fff" stroke-width="1.0" stroke-linecap="round" stroke-linejoin="round"/>
<path d="M227.8,103.0 L228.8,106.9 L229.4,109.7 L227.8,111.6" fill="none" stroke="#fff" stroke-width="1.0" stroke-linecap="round" stroke-linejoin="round"/>
<path d="M164.1,43.4 L165.9,47.0" fill="none" stroke="#fff" stroke-width="0.9" stroke-linecap="round" stroke-linejoin="round"/>
<path d="M210.6,73.6 L209.4,79.1 L210.2,85.3 L210.9,91.6 L210.6,97.8" fill="none" stroke="#fff" stroke-width="1.0" stroke-linecap="round" stroke-linejoin="round"/>
<path d="M212.5,76.7 L214.8,82.2 L216.4,86.9 L218.8,91.6 L220.6,97.0" fill="none" stroke="#fff" stroke-width="1.0" stroke-linecap="round" stroke-linejoin="round"/>
<path d="M218.4,79.8 L220.3,83.0 L222.2,86.9 L225.0,89.7" fill="none" stroke="#fff" stroke-width="0.9" stroke-linecap="round" stroke-linejoin="round"/>
<path d="M370.7,74.2 L369.4,68.6 L371.5,62.9 L373.7,59.2 L376.2,56.0" fill="none" stroke="#fff" stroke-width="0.9" stroke-linecap="round" stroke-linejoin="round"/>
<path d="M375.0,58.8 L377.5,61.8 L380.5,66.3 L382.0,70.1 L381.4,73.1" fill="none" stroke="#fff" stroke-width="0.9" stroke-linecap="round" stroke-linejoin="round"/>
<path d="M207.2,138.0 L208.0,139.4" fill="none" stroke="#fff" stroke-width="0.6" stroke-linecap="round" stroke-linejoin="round"/>
<path d="M211.2,141.5 L212.0,143.5" fill="none" stroke="#fff" stroke-width="0.6" stroke-linecap="round" stroke-linejoin="round"/>
<path d="M203.8,148.7 L205.0,149.6" fill="none" stroke="#fff" stroke-width="0.6" stroke-linecap="round" stroke-linejoin="round"/>
<path d="M208.2,166.5 L209.0,168.3" fill="none" stroke="#fff" stroke-width="0.5" stroke-linecap="round" stroke-linejoin="round"/>
<path d="M398.4,321.1 L402.8,323.4 L406.7,326.6 L409.8,328.9 L410.3,330.0" fill="none" stroke="#6a6a5e" stroke-width="1.6" stroke-linecap="round" stroke-linejoin="round"/>
<path d="M398.4,321.1 L402.8,323.4 L406.7,326.6 L409.8,328.9 L410.3,330.0" fill="none" stroke="#f2e8bd" stroke-width="0.7" stroke-linecap="round" stroke-linejoin="round"/>
<path d="M179.7,103.9 L185.0,102.3 L190.1,100.2" fill="none" stroke="#6a6a5e" stroke-width="0.5" stroke-linecap="round" stroke-linejoin="round"/>
<path d="M148.4,96.2 L145.3,93.1" fill="none" stroke="#6a6a5e" stroke-width="0.5" stroke-linecap="round" stroke-linejoin="round"/>
<path d="M376.6,91.6 L378.9,93.9 L379.7,97.0 L378.9,101.7 L378.1,105.6" fill="none" stroke="#6a6a5e" stroke-width="0.5" stroke-linecap="round" stroke-linejoin="round"/>
</g>
<rect x="129.05" y="43.4" width="400.6" height="339.8" fill="none" stroke="#000" stroke-opacity="0.62" stroke-width="1.3"/>
<rect x="501.8" y="275" width="20.2" height="101.6" fill="url(#cb)" stroke="#111" stroke-width="0.9"/>
<line x1="496.4" y1="293.7" x2="501.8" y2="293.7" stroke="#111" stroke-width="1.3"/>
<text class="s" x="484.4" y="296.8" text-anchor="end">0.4</text>
<line x1="496.4" y1="318.3" x2="501.8" y2="318.3" stroke="#111" stroke-width="1.3"/>
<text class="s" x="484.4" y="321.4" text-anchor="end">0.3</text>
<line x1="496.4" y1="343.0" x2="501.8" y2="343.0" stroke="#111" stroke-width="1.3"/>
<text class="s" x="484.4" y="346.1" text-anchor="end">0.2</text>
<line x1="496.4" y1="367.5" x2="501.8" y2="367.5" stroke="#111" stroke-width="1.3"/>
<text class="s" x="484.4" y="370.6" text-anchor="end">0.1</text>
<text class="s" x="511.8" y="265.7" text-anchor="middle">umol/l</text>
<circle cx="172.0" cy="138.9" r="5.1" fill="#fff7fb" stroke="#0a0a0a" stroke-width="0.95"/>
<path d="M176.4,133.6 L186.8,133.6 L181.6,143.4Z" fill="#ffffff" stroke="#111" stroke-width="0.85" stroke-linejoin="miter"/>
<circle cx="187.1" cy="135.7" r="5.1" fill="#b0c2de" stroke="#0a0a0a" stroke-width="0.95"/>
<circle cx="198.5" cy="140.1" r="5.1" fill="#d3d3e7" stroke="#0a0a0a" stroke-width="0.95"/>
<circle cx="194.6" cy="161.0" r="5.1" fill="#85b3d5" stroke="#0a0a0a" stroke-width="0.95"/>
<path d="M200.2,192.5 L210.6,192.5 L205.4,202.3Z" fill="#f3e8f3" stroke="#111" stroke-width="0.85" stroke-linejoin="miter"/>
<circle cx="220.7" cy="210.7" r="5.1" fill="#ede3f1" stroke="#0a0a0a" stroke-width="0.95"/>
<path d="M213.2,219.8 L223.6,219.8 L218.4,229.6Z" fill="#f6edf5" stroke="#111" stroke-width="0.85" stroke-linejoin="miter"/>
<circle cx="236.4" cy="266.1" r="5.1" fill="#014636" stroke="#0a0a0a" stroke-width="0.95"/>
<circle cx="252.0" cy="309.1" r="5.1" fill="#07828f" stroke="#0a0a0a" stroke-width="0.95"/>
<circle cx="275.2" cy="311.0" r="5.1" fill="#1b88a4" stroke="#0a0a0a" stroke-width="0.95"/>
<circle cx="296.9" cy="278.6" r="5.1" fill="#73add1" stroke="#0a0a0a" stroke-width="0.95"/>
<circle cx="310.6" cy="290.4" r="5.1" fill="#7fb1d4" stroke="#0a0a0a" stroke-width="0.95"/>
<circle cx="328.8" cy="297.3" r="5.1" fill="#4b9bc6" stroke="#0a0a0a" stroke-width="0.95"/>
<circle cx="344.8" cy="253.3" r="5.1" fill="#014d3d" stroke="#0a0a0a" stroke-width="0.95"/>
<circle cx="398.0" cy="282.3" r="5.1" fill="#a3bcda" stroke="#0a0a0a" stroke-width="0.95"/>
<circle cx="432.0" cy="226.7" r="5.1" fill="#c4cbe3" stroke="#0a0a0a" stroke-width="0.95"/>
<circle cx="446.3" cy="190.8" r="5.1" fill="#b4c4df" stroke="#0a0a0a" stroke-width="0.95"/>
<path d="M440.8,148.9 L446.0,159.0 L435.6,159.0Z" fill="#97b8d8" stroke="#111" stroke-width="0.9" stroke-linejoin="miter"/>
<circle cx="453.3" cy="105.8" r="5.1" fill="#d3d3e7" stroke="#0a0a0a" stroke-width="0.95"/>
<path d="M393.6,117.2 L398.8,127.3 L388.4,127.3Z" fill="#73add1" stroke="#111" stroke-width="0.9" stroke-linejoin="miter"/>
<circle cx="386.1" cy="153.6" r="5.1" fill="#7fb1d4" stroke="#0a0a0a" stroke-width="0.95"/>
<path d="M377.3,196.1 L382.5,206.2 L372.1,206.2Z" fill="#027773" stroke="#111" stroke-width="0.9" stroke-linejoin="miter"/>
<text class="m" x="143.7" y="135.7">0.06</text>
<text class="m" x="183.3" y="127.0">0.1</text>
<text class="m" x="203.1" y="136.5">0.16</text>
<text class="m" x="159.6" y="158.6">0.18</text>
<text class="m" x="202.0" y="161.3">0.23</text>
<text class="m" x="206.1" y="193.7">0.1</text>
<text class="m" x="225.6" y="207.1">0.11</text>
<text class="m" x="225.3" y="226.4">0.08</text>
<text class="m" x="237.1" y="262.6">0.48</text>
<text class="m" x="257.1" y="305.3">0.37</text>
<text class="m" x="283.1" y="318.9">0.35</text>
<text class="m" x="297.9" y="275.0">0.26</text>
<text class="m" x="311.3" y="286.8">0.25</text>
<text class="m" x="333.6" y="294.4">0.3</text>
<text class="m" x="349.1" y="249.8">0.47</text>
<text class="m" x="398.6" y="278.6">0.22</text>
<text class="m" x="432.3" y="222.9">0.18</text>
<text class="m" x="446.8" y="187.0">0.2</text>
<text class="m" x="445.0" y="151.0">0.23</text>
<text class="m" x="453.8" y="101.7">0.16</text>
<text class="m" x="393.7" y="118.5">0.26</text>
<text class="m" x="387.5" y="149.5">0.25</text>
<text class="m" x="377.6" y="197.4">0.4</text>
<text class="l" style="font-size:11.82px" x="169.0" y="363.2">Mean is based on October station monitoring</text>
<text class="l" style="font-size:11.82px" x="169.0" y="375.9">2006-2020. *standard deviation.</text>
<text class="l" x="129.2" y="395.4" text-anchor="middle">9°E</text>
<text class="l" x="186.4" y="395.4" text-anchor="middle">11°E</text>
<text class="l" x="243.7" y="395.4" text-anchor="middle">13°E</text>
<text class="l" x="300.7" y="395.4" text-anchor="middle">15°E</text>
<text class="l" x="358.0" y="395.4" text-anchor="middle">17°E</text>
<text class="l" x="415.4" y="395.4" text-anchor="middle">19°E</text>
<text class="l" x="472.6" y="395.4" text-anchor="middle">21°E</text>
<text class="l" x="125.1" y="102.7" text-anchor="end">59°N</text>
<text class="l" x="125.1" y="157.9" text-anchor="end">58°N</text>
<text class="l" x="125.1" y="210.6" text-anchor="end">57°N</text>
<text class="l" x="125.1" y="262.5" text-anchor="end">56°N</text>
<text class="l" x="125.1" y="313.2" text-anchor="end">55°N</text>
<text class="l" x="125.1" y="361.7" text-anchor="end">54°N</text>
<text class="t" x="329.6" y="20.4" text-anchor="middle">SMHI marine monitoring October 2024</text>
<text class="t" x="330" y="36.1" text-anchor="middle">Phosphate in the surface water (0-10 m)</text>
<path d="M153.2,405.3 L164.4,405.3 L158.8,416.3Z" fill="#fff" stroke="#111" stroke-width="0.85" stroke-linejoin="miter"/>
<text class="l" x="180.2" y="413.2">&lt; mean -1std*</text>
<circle cx="290" cy="410.6" r="5.1" fill="#014636" stroke="#0a0a0a" stroke-width="0.95"/>
<text class="l" x="311" y="413.2">mean ±1std*</text>
<path d="M413.6,404.6 L419.2,415.6 L408.0,415.6Z" fill="#02818a" stroke="#111" stroke-width="0.9" stroke-linejoin="miter"/>
<text class="l" x="434.8" y="413.2">&gt; mean +1std*</text>
</svg></body></html>
